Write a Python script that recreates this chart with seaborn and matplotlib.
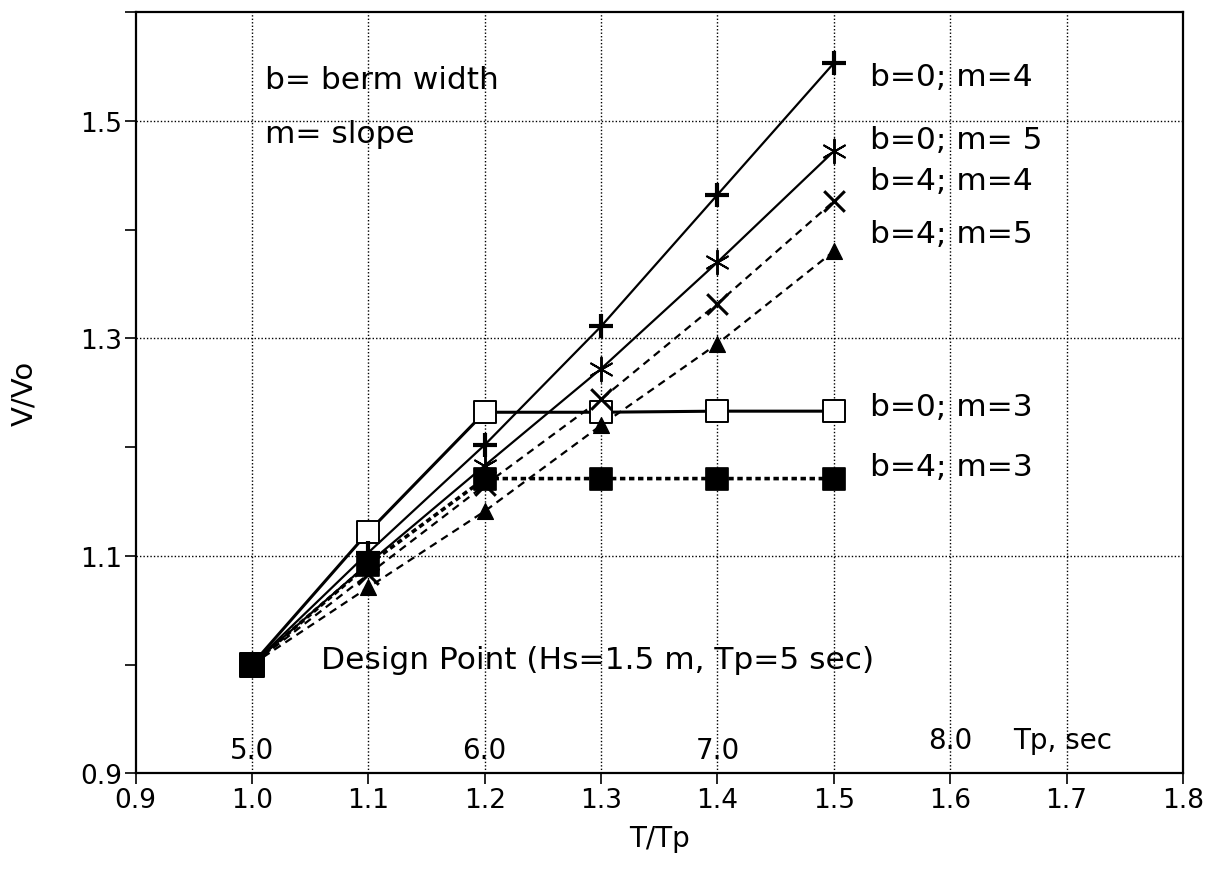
import matplotlib
matplotlib.use("Agg")
import matplotlib.pyplot as plt
import seaborn as sns
import numpy as np

# T/Tp values shared by every curve
t_ratio = [1.0, 1.1, 1.2, 1.3, 1.4, 1.5]

# V/Vo for each berm width / slope case
b0_m4 = [1.0, 1.103, 1.202, 1.311, 1.432, 1.553]
b0_m5 = [1.0, 1.093, 1.183, 1.272, 1.370, 1.472]
b4_m4 = [1.0, 1.083, 1.165, 1.244, 1.332, 1.426]
b4_m5 = [1.0, 1.071, 1.141, 1.220, 1.295, 1.380]
b0_m3 = [1.0, 1.122, 1.232, 1.232, 1.233, 1.233]
b4_m3 = [1.0, 1.092, 1.171, 1.171, 1.171, 1.171]

series_labels = ["b=0; m=4", "b=0; m= 5", "b=4; m=4", "b=4; m=5", "b=0; m=3", "b=4; m=3"]

design_point = (1.0, 1.0)
tp_values = [5.0, 6.0, 7.0, 8.0]
design_tp = 5.0

sns.set_style("white")
plt.rcParams["font.family"] = ["DejaVu Sans"]
plt.rcParams["text.color"] = "black"
plt.rcParams["axes.labelcolor"] = "black"
plt.rcParams["xtick.color"] = "black"
plt.rcParams["ytick.color"] = "black"

fig = plt.figure(figsize=(12.22, 8.70), dpi=100)
ax = fig.add_axes([0.111, 0.110, 0.857, 0.875])

asterisk = (6, 2, 0)
line_styles = [
    ("-", 1.6),
    ("-", 1.6),
    ((0, (3.5, 2.5)), 1.6),
    ((0, (3.5, 2.5)), 1.6),
    ("-", 2.2),
    ((0, (1.5, 1)), 2.6),
]
all_series = [b0_m4, b0_m5, b4_m4, b4_m5, b0_m3, b4_m3]

for vals, (ls, lw) in zip(all_series, line_styles):
    sns.lineplot(x=t_ratio, y=vals, ax=ax, color="black", linestyle=ls,
                 linewidth=lw, estimator=None, sort=False, legend=False)

# markers drawn separately
sns.scatterplot(x=t_ratio[1:], y=b0_m4[1:], ax=ax, marker="+", s=300, color="black",
                linewidth=3, legend=False, zorder=5)
sns.scatterplot(x=t_ratio[1:], y=b0_m5[1:], ax=ax, marker=asterisk, s=300, color="black",
                linewidth=1.4, legend=False, zorder=5)
sns.scatterplot(x=t_ratio[1:], y=b4_m4[1:], ax=ax, marker="x", s=220, color="black",
                linewidth=2.2, legend=False, zorder=5)
sns.scatterplot(x=t_ratio[1:], y=b4_m5[1:], ax=ax, marker="^", s=130, color="black",
                edgecolor="black", legend=False, zorder=5)
sns.scatterplot(x=t_ratio[1:], y=b0_m3[1:], ax=ax, marker="s", s=240, facecolor="white",
                edgecolor="black", linewidth=1.4, legend=False, zorder=4)
sns.scatterplot(x=t_ratio[1:], y=b4_m3[1:], ax=ax, marker="s", s=240, color="black",
                edgecolor="black", legend=False, zorder=6)
sns.scatterplot(x=[design_point[0]], y=[design_point[1]], ax=ax, marker="s", s=320,
                color="black", edgecolor="black", legend=False, zorder=7)

ax.set_xlim(0.9, 1.8)
ax.set_ylim(0.9, 1.6)
xt = np.round(np.arange(0.9, 1.81, 0.1), 1)
ax.set_xticks(xt)
ax.set_xticklabels([f"{v:.1f}" for v in xt])
ax.set_yticks([0.9, 1.1, 1.3, 1.5])
ax.set_yticklabels(["0.9", "1.1", "1.3", "1.5"])
ax.set_yticks([1.0, 1.2, 1.4, 1.6], minor=True)
ax.tick_params(axis="both", which="both", direction="out", length=8, width=1.2,
               color="black", labelsize=19, bottom=True, left=True)
ax.tick_params(axis="x", pad=2)
ax.tick_params(axis="y", pad=2)

ax.grid(False)
for xv in xt[1:-1]:
    ax.axvline(xv, color="black", lw=1.0, ls=(0, (1, 1.5)), zorder=0)
for yv in [1.1, 1.3, 1.5]:
    ax.axhline(yv, color="black", lw=1.0, ls=(0, (1, 1.5)), zorder=0)

for sp in ax.spines.values():
    sp.set_color("black")
    sp.set_linewidth(1.6)

ax.set_xlabel("T/Tp", fontsize=20, labelpad=8)
ax.set_ylabel("V/Vo", fontsize=21, labelpad=30)

txt = dict(fontsize=22.5, color="black", va="center")
ax.text(1.011, 1.538, "b= berm width", **txt)
ax.text(1.011, 1.488, "m= slope", **txt)
label_y = [1.541, 1.483, 1.445, 1.396, 1.237, 1.182]
for lab, ly in zip(series_labels, label_y):
    ax.text(1.531, ly, lab, **txt)
ax.text(1.059, 1.005, "Design Point (Hs=1.5 m, Tp=5 sec)", **txt)

for tp in tp_values:
    ax.text(tp / design_tp, 0.921 if tp < 8 else 0.931, f"{tp:.1f}", ha="center",
            fontsize=20, va="center")
ax.text(1.654, 0.931, "Tp, sec", fontsize=20, va="center")

fig.savefig("out.png", dpi=100)
